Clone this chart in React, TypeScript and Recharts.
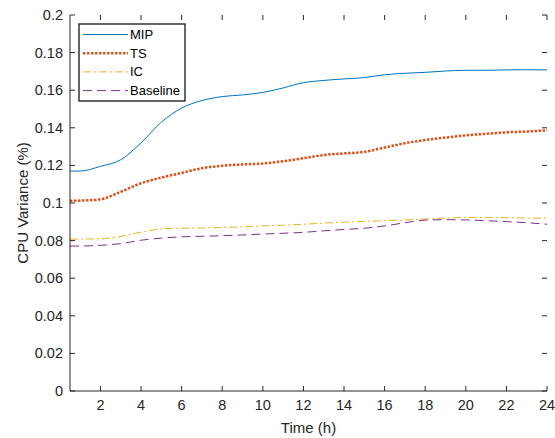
import React from 'react';
import { LineChart, Line, XAxis, YAxis } from 'recharts';

// hours (x) and CPU variance per method
const hours = [0.5, 1, 2, 3, 4, 5, 6, 7, 8, 9, 10, 11, 12, 13, 14, 15, 16, 17, 18, 19, 20, 21, 22, 23, 24];
const mip = [0.117, 0.117, 0.1195, 0.123, 0.132, 0.143, 0.1505, 0.1545, 0.1566, 0.1575, 0.1588, 0.1612, 0.164, 0.1652, 0.166, 0.1667, 0.1682, 0.169, 0.1695, 0.1702, 0.1706, 0.1706, 0.1708, 0.1709, 0.1708];
const ts = [0.1011, 0.1013, 0.102, 0.106, 0.1105, 0.1135, 0.116, 0.1185, 0.1198, 0.1205, 0.121, 0.1222, 0.1238, 0.1255, 0.1264, 0.1272, 0.1295, 0.1318, 0.1335, 0.1348, 0.136, 0.1368, 0.1376, 0.138, 0.1387];
const ic = [0.0808, 0.0808, 0.081, 0.0822, 0.0845, 0.0862, 0.0866, 0.0867, 0.087, 0.0873, 0.0878, 0.0882, 0.0887, 0.0893, 0.0898, 0.0902, 0.0906, 0.091, 0.0915, 0.092, 0.0923, 0.0923, 0.0922, 0.092, 0.0919];
const baseline = [0.0771, 0.0771, 0.0775, 0.0784, 0.0802, 0.0813, 0.082, 0.0823, 0.0826, 0.083, 0.0835, 0.0839, 0.0844, 0.0852, 0.0859, 0.0866, 0.0878, 0.0895, 0.0909, 0.0911, 0.091, 0.0906, 0.0901, 0.0895, 0.0887];

const xTicks = [2, 4, 6, 8, 10, 12, 14, 16, 18, 20, 22, 24];
const yTicks = [0, 0.02, 0.04, 0.06, 0.08, 0.1, 0.12, 0.14, 0.16, 0.18, 0.2];

const rows = hours.map((h, i) => ({ h, MIP: mip[i], TS: ts[i], IC: ic[i], Baseline: baseline[i] }));

const series = [
  { key: 'MIP', color: '#0072BD', width: 1, dash: undefined as string | undefined },
  { key: 'TS', color: '#D95319', width: 2.5, dash: '2.5 1.5' },
  { key: 'IC', color: '#EDB120', width: 1, dash: '8 3 2 3' },
  { key: 'Baseline', color: '#7E2F8E', width: 1, dash: '9 5' },
];

const AX = '#262626';
const FONT = '"Liberation Sans", Arial, Helvetica, sans-serif';

// chart box (matlab style: ticks point inward on all four sides)
const W = 555, H = 438;
const M = { top: 15, right: 8, bottom: 47, left: 70 };
const PL = M.left, PR = W - M.right, PT = M.top, PB = H - M.bottom;
const TICK = 5;
const MARGIN = 7;

const YTick = (p: any) => (
  <g>
    <line x1={PL} x2={PL + TICK} y1={p.y} y2={p.y} stroke={AX} />
    <line x1={PR - TICK} x2={PR} y1={p.y} y2={p.y} stroke={AX} />
    <text x={p.x} y={p.y} textAnchor="end" dominantBaseline="central" fontSize={14.5} fontFamily={FONT} fill={AX}>
      {p.payload.value}
    </text>
  </g>
);

const XTick = (p: any) => (
  <g>
    <line x1={p.x} x2={p.x} y1={PB} y2={PB - TICK} stroke={AX} />
    <line x1={p.x} x2={p.x} y1={PT} y2={PT + TICK} stroke={AX} />
    <text x={p.x} y={p.y} dy="0.71em" textAnchor="middle" fontSize={14.5} fontFamily={FONT} fill={AX}>
      {p.payload.value}
    </text>
  </g>
);

// legend box overlaid on the plot, top-left corner
const LegendBox = () => (
  <svg width={108} height={79} style={{ position: 'absolute', left: 78, top: 23, zIndex: 5 }}>
    <rect x={1} y={1} width={106} height={77} fill="#fff" stroke={AX} strokeWidth={1.4} />
    {series.map((s, i) => (
      <g key={s.key}>
        <line x1={5} x2={50} y1={11.5 + i * 18.7} y2={11.5 + i * 18.7} stroke={s.color} strokeWidth={s.width} strokeDasharray={s.dash} />
        <text x={52} y={11.5 + i * 18.7} dy="0.35em" fontSize={13} fontFamily={FONT} fill="#000">{s.key}</text>
      </g>
    ))}
  </svg>
);

const YLabel = (props: any) => {
  const vb = props.viewBox || {};
  const cx = 22;
  const cy = vb.y + vb.height / 2;
  return (
    <text x={cx} y={cy} transform={`rotate(-90, ${cx}, ${cy})`} textAnchor="middle" dominantBaseline="central" fontSize={15} fontFamily={FONT} fill={AX}>
      CPU Variance (%)
    </text>
  );
};

export default function App() {
  return (
    <div style={{ position: 'absolute', left: 0, top: 0, width: W, height: H, background: '#fff' }}>
      <LineChart width={W} height={H} data={rows} margin={{ top: M.top, right: M.right, bottom: 0, left: 0 }}>
        <XAxis dataKey="h" type="number" domain={[0.5, 24]} ticks={xTicks} interval={0} height={M.bottom}
          stroke={AX} tickLine={false} tickSize={0} tickMargin={MARGIN + 2} tick={<XTick />}
          label={{ value: 'Time (h)', position: 'insideBottom', offset: 5, style: { fontSize: 15, fontFamily: FONT, fill: AX } }} />
        <XAxis xAxisId="top" dataKey="h" type="number" domain={[0.5, 24]} orientation="top"
          height={0} tick={false} tickLine={false} stroke={AX} />
        <YAxis type="number" domain={[0, 0.2]} ticks={yTicks} interval={0} width={M.left}
          stroke={AX} tickLine={false} tickSize={0} tickMargin={MARGIN} tick={<YTick />} label={<YLabel />} />
        <YAxis yAxisId="right" type="number" domain={[0, 0.2]} orientation="right"
          width={0} tick={false} tickLine={false} stroke={AX} />
        {series.map((s) => (
          <Line key={s.key} dataKey={s.key} type="monotone" stroke={s.color} strokeWidth={s.width}
            strokeDasharray={s.dash} dot={false} activeDot={false} isAnimationActive={false} />
        ))}
      </LineChart>
      <LegendBox />
    </div>
  );
}
